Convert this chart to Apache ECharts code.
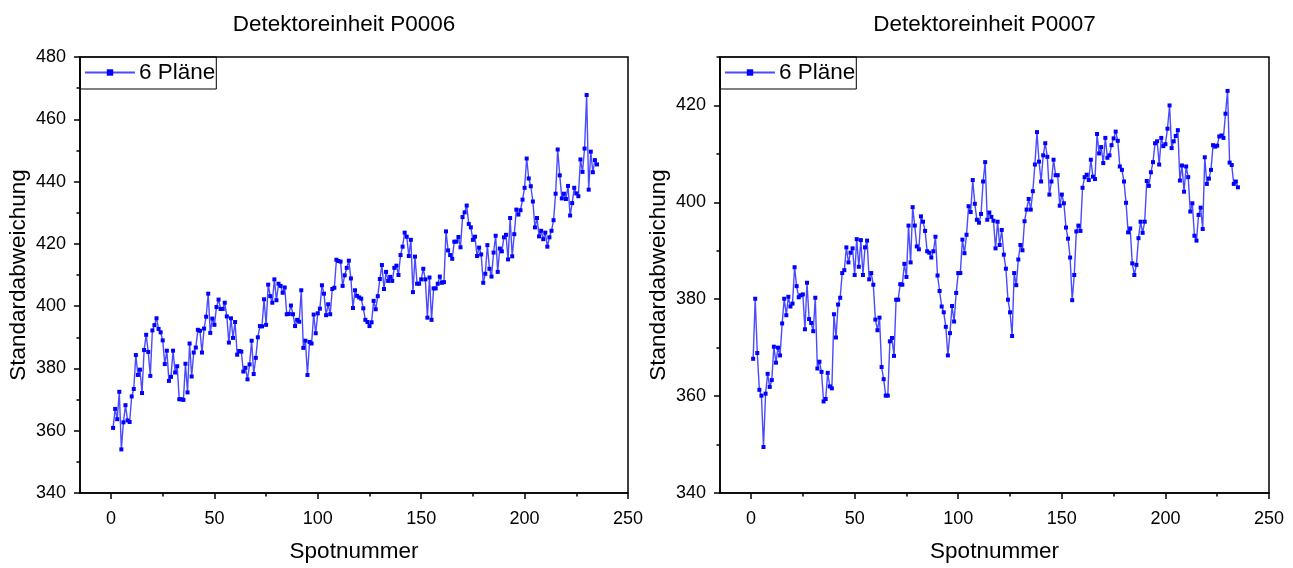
<!DOCTYPE html>
<html>
<head>
<meta charset="utf-8">
<script src="https://cdn.jsdelivr.net/npm/echarts@6/dist/echarts.min.js"></script>
<style>html,body{margin:0;padding:0;background:#fff}#c{width:1293px;height:568px}</style>
</head>
<body>
<div id="c"></div>
<script>
const titles = ['Detektoreinheit P0006', 'Detektoreinheit P0007'];
const seriesName = '6 Pläne';
const xName = 'Spotnummer';
const yName = 'Standardabweichung';
const xTicks = [0, 50, 100, 150, 200, 250];
const xMinorTicks = [25, 75, 125, 175, 225];
const yTicksLeft = [340, 360, 380, 400, 420, 440, 460, 480];
const yMinorLeft = [350, 370, 390, 410, 430, 450, 470];
const yTicksRight = [340, 360, 380, 400, 420];
const yMinorRight = [350, 370, 390, 410, 430];

const valuesP0006 = [
360.9,367.0,363.7,372.5,354.0,362.7,368.2,363.3,362.8,371.0,
373.4,384.3,377.9,379.6,372.1,385.9,390.8,385.3,377.6,392.2,
393.9,396.1,392.7,391.6,389.0,381.4,385.7,376.0,377.3,385.7,
378.7,380.7,370.1,370.1,369.9,381.5,372.3,388.0,377.4,385.1,
386.7,392.4,392.1,385.1,392.8,396.6,404.0,391.4,396.0,394.0,
399.7,402.1,399.1,399.1,401.1,396.7,388.3,396.1,389.8,394.9,
384.4,385.6,385.4,379.0,380.2,376.5,381.3,388.9,378.2,383.4,
390.0,393.6,393.5,402.2,394.0,406.9,403.2,401.1,408.6,401.9,
407.2,406.5,404.3,406.0,397.4,397.5,400.2,397.4,393.6,395.6,
395.0,405.1,386.6,388.9,377.9,388.5,388.0,397.3,391.3,397.7,
399.2,406.7,404.0,397.1,400.6,397.4,405.5,405.9,414.9,414.5,
414.3,406.5,409.9,412.3,414.6,408.9,399.4,405.1,403.3,402.8,
402.4,399.3,395.6,394.9,393.6,394.8,401.7,399.0,403.2,408.7,
413.2,405.5,411.0,408.1,409.4,408.1,412.3,413.0,410.0,416.4,
419.1,423.6,422.3,416.1,421.3,404.5,415.9,407.2,407.2,408.6,
412.0,408.6,396.3,409.2,395.6,405.7,405.7,407.2,409.5,407.5,
407.7,424.0,417.9,416.4,415.2,420.7,420.7,422.2,418.9,428.6,
430.1,432.3,426.4,425.3,421.3,422.3,416.1,418.8,416.6,407.5,
410.4,419.6,412.0,409.5,417.2,422.6,411.0,418.5,417.6,422.1,
422.9,415.0,428.3,416.0,423.1,431.0,429.4,430.8,434.2,438.0,
447.4,441.0,438.5,433.6,425.3,428.3,422.4,424.2,421.5,423.6,
419.1,422.1,424.2,427.6,436.1,450.3,442.0,434.6,436.1,434.4,
438.6,429.1,433.1,438.0,436.2,435.3,447.1,443.1,450.6,467.8,
437.4,449.6,443.0,446.9,445.5
];

const valuesP0007 = [
367.7,380.1,368.9,361.3,360.1,349.5,360.5,364.6,361.9,363.3,
370.2,366.9,370.0,368.4,375.0,380.1,376.7,380.5,378.5,379.1,
386.6,382.7,380.4,380.8,381.0,373.8,383.4,375.9,375.1,373.4,
380.3,365.7,367.1,365.0,358.9,359.4,364.8,362.0,361.6,376.9,
372.1,378.9,380.3,385.4,386.0,390.7,387.6,389.6,390.5,385.0,
392.4,386.7,392.2,385.0,390.7,392.1,384.1,385.4,383.0,375.8,
373.6,376.2,366.0,363.5,360.1,360.1,371.3,372.0,368.3,379.9,
379.9,383.1,383.0,387.3,384.6,395.2,387.6,399.0,395.2,390.9,
390.3,397.1,396.0,394.1,389.9,389.6,388.6,389.9,392.9,384.9,
381.7,378.5,377.3,374.3,368.4,373.0,378.6,375.4,381.3,385.4,
385.4,392.3,389.5,393.3,399.2,398.0,404.6,399.7,396.4,395.8,
397.6,404.3,408.3,396.4,397.9,397.0,396.2,390.5,396.0,391.2,
394.3,389.2,386.3,379.9,377.3,372.4,385.4,382.9,388.2,391.2,
390.1,396.1,398.5,400.7,398.5,402.3,407.8,414.5,408.4,404.3,
409.7,412.2,409.4,401.6,404.3,408.8,405.6,405.6,399.3,401.6,
399.8,394.8,392.5,388.6,379.8,385.0,394.0,395.2,394.1,403.0,
405.2,405.7,404.6,408.8,405.3,404.8,414.1,410.1,411.4,408.1,
413.3,409.2,409.7,411.8,413.2,414.6,412.7,407.4,406.7,404.3,
399.9,393.8,394.6,387.4,385.0,387.1,392.6,396.0,393.7,396.0,
404.4,403.4,406.2,408.3,412.2,412.6,407.8,413.3,411.6,412.0,
415.2,420.0,411.2,412.6,413.7,414.9,404.5,407.6,402.2,407.4,
405.2,398.1,399.8,393.1,392.1,397.4,398.9,394.5,409.3,403.8,
404.9,406.7,411.8,411.5,411.7,413.6,413.8,413.3,418.3,423.0,
408.2,407.7,403.8,404.3,403.1
];

const FONT = 'Liberation Sans, Arial, sans-serif';
const toPairs = arr => arr.map((v, i) => [i + 1, v]);

const grids = [
  {left: 80, top: 57, width: 548, height: 440},
  {left: 720, top: 57, width: 549, height: 440}
];
const yCfg = [
  {min: 340, max: 480, ticks: yTicksLeft, minor: yMinorLeft},
  {min: 340, max: 430, ticks: yTicksRight, minor: yMinorRight}
];

const xAxes = [], yAxes = [], series = [], titleArr = [], legends = [];
grids.forEach((g, gi) => {
  xAxes.push({
    gridIndex: gi, type: 'value', min: -15, max: 250, position: 'bottom',
    name: xName, nameLocation: 'middle', nameGap: 47,
    nameTextStyle: {fontFamily: FONT, fontSize: 22.5, color: '#000'},
    axisLine: {onZero: false, lineStyle: {color: '#000', width: 1.5}},
    axisTick: {show: true, inside: false, length: 6, lineStyle: {color: '#000', width: 1.5}, customValues: xTicks},
    axisLabel: {fontFamily: FONT, fontSize: 18, color: '#000', margin: 17, customValues: xTicks},
    splitLine: {show: false}
  });
  xAxes.push({
    gridIndex: gi, type: 'value', min: -15, max: 250, position: 'bottom',
    axisLine: {show: false, onZero: false},
    axisTick: {show: true, length: 3.5, lineStyle: {color: '#000', width: 1.5}, customValues: xMinorTicks},
    axisLabel: {show: false},
    splitLine: {show: false}
  });
  const yc = yCfg[gi];
  yAxes.push({
    gridIndex: gi, type: 'value', min: yc.min, max: yc.max, position: 'left',
    name: yName, nameLocation: 'middle', nameGap: 50,
    nameTextStyle: {fontFamily: FONT, fontSize: 22.5, color: '#000'},
    axisLine: {show: true, onZero: false, lineStyle: {color: '#000', width: 1.5}},
    axisTick: {show: true, length: 6, lineStyle: {color: '#000', width: 1.5}, customValues: yc.ticks},
    axisLabel: {fontFamily: FONT, fontSize: 18, color: '#000', margin: 14, customValues: yc.ticks},
    splitLine: {show: false}
  });
  yAxes.push({
    gridIndex: gi, type: 'value', min: yc.min, max: yc.max, position: 'left',
    axisLine: {show: false, onZero: false},
    axisTick: {show: true, length: 3.5, lineStyle: {color: '#000', width: 1.5}, customValues: yc.minor},
    axisLabel: {show: false},
    splitLine: {show: false}
  });
  titleArr.push({
    text: titles[gi], left: g.left + g.width / 2 - 15, top: 8, textAlign: 'center',
    textStyle: {fontFamily: FONT, fontSize: 22.5, fontWeight: 'normal', color: '#000'}
  });
  legends.push({
    left: g.left, top: g.top, orient: 'horizontal',
    data: [seriesName], itemWidth: 50, itemHeight: 8, itemGap: 5,
    padding: [4, 1, 5, 4],
    borderColor: '#000', borderWidth: 1, borderRadius: 0,
    textStyle: {fontFamily: FONT, fontSize: 22.5, color: '#000', padding: [0, 0, 0, -1]},
    selectedMode: false
  });
});

[valuesP0006, valuesP0007].forEach((vals, gi) => {
  series.push({
    name: seriesName, type: 'line', xAxisIndex: gi * 2, yAxisIndex: gi * 2,
    data: toPairs(vals), symbol: 'rect', symbolSize: 4, showSymbol: true,
    lineStyle: {color: '#4a4aff', width: 1.4},
    itemStyle: {color: '#0000ff'},
    animation: false
  });
});

const chart = echarts.init(document.getElementById('c'), null, {renderer: 'canvas'});
chart.setOption({
  backgroundColor: '#fff',
  animation: false,
  title: titleArr,
  legend: legends,
  grid: grids.map(g => Object.assign({show: true, borderColor: '#000', borderWidth: 1.5, backgroundColor: 'transparent'}, g)),
  xAxis: xAxes,
  yAxis: yAxes,
  series: series
});
</script>
</body>
</html>
